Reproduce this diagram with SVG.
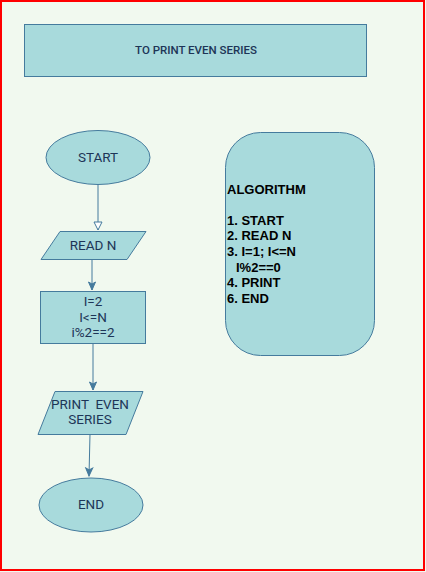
<svg xmlns="http://www.w3.org/2000/svg" width="426" height="572" viewBox="0 0 426 572">
<defs>
<style>
.n{fill:#a8dadc;stroke:#457b9d;stroke-width:1}
.t{font-family:"Roboto","Liberation Sans",sans-serif;font-size:13.5px;fill:#1d3557;text-anchor:middle}
.a{font-family:"Liberation Sans",Arial,sans-serif;font-size:13px;font-weight:bold;fill:#000}
.c{fill:none;stroke:#457b9d;stroke-width:1}
</style>
<marker id="open" markerWidth="10" markerHeight="10" refX="9" refY="5" orient="auto" markerUnits="userSpaceOnUse">
<path d="M1,1 L9,5 L1,9 Z" fill="#ffffff" stroke="#457b9d" stroke-width="1"/>
</marker>
<marker id="fill" markerWidth="10" markerHeight="10" refX="9" refY="5" orient="auto" markerUnits="userSpaceOnUse">
<path d="M1,1.5 L9,5 L1,8.5 L3,5 Z" fill="#457b9d" stroke="#457b9d" stroke-width="1"/>
</marker>
</defs>
<rect x="0" y="0" width="426" height="572" fill="#f1f9ef"/>
<rect x="1" y="1" width="423" height="569" fill="none" stroke="#ff0000" stroke-width="2"/>
<g id="title">
<rect class="n" x="24.5" y="24.5" width="342" height="52"/>
<text class="t" x="196" y="54" style="font-size:11.5px;font-weight:500">TO PRINT EVEN SERIES</text>
</g>
<g id="connectors">
<line class="c" x1="98" y1="184" x2="98" y2="230" marker-end="url(#open)"/>
<line class="c" x1="92" y1="259" x2="92" y2="290" marker-end="url(#fill)"/>
<line class="c" x1="93" y1="344" x2="93" y2="390" marker-end="url(#fill)"/>
<line class="c" x1="90" y1="434" x2="89" y2="476" marker-end="url(#fill)"/>
</g>
<g id="start">
<ellipse class="n" cx="98" cy="157.5" rx="52" ry="27"/>
<text class="t" x="98" y="162">START</text>
</g>
<g id="read">
<polygon class="n" points="60,231.5 146,231.5 127,259.5 41,259.5"/>
<text class="t" x="93" y="250">READ N</text>
</g>
<g id="process">
<rect class="n" x="40.5" y="291.5" width="105" height="52"/>
<text class="t" x="93" y="306">I=2</text>
<text class="t" x="93" y="322">I&lt;=N</text>
<text class="t" x="93" y="337">i%2==2</text>
</g>
<g id="print">
<polygon class="n" points="55,391.5 143,391.5 126,434.5 38,434.5"/>
<text class="t" x="90" y="409" xml:space="preserve">PRINT  EVEN</text>
<text class="t" x="90" y="424">SERIES</text>
</g>
<g id="end">
<ellipse class="n" cx="91" cy="505" rx="52" ry="27"/>
<text class="t" x="91" y="509">END</text>
</g>
<g id="algorithm">
<rect class="n" x="225.5" y="132.5" width="149" height="223" rx="35" ry="35"/>
<text class="a" x="227" y="194">ALGORITHM</text>
<text class="a" x="227" y="225">1. START</text>
<text class="a" x="227" y="240">2. READ N</text>
<text class="a" x="227" y="256">3. I=1; I&lt;=N</text>
<text class="a" x="236" y="272">I%2==0</text>
<text class="a" x="227" y="287">4. PRINT</text>
<text class="a" x="227" y="303">6. END</text>
</g>
</svg>
